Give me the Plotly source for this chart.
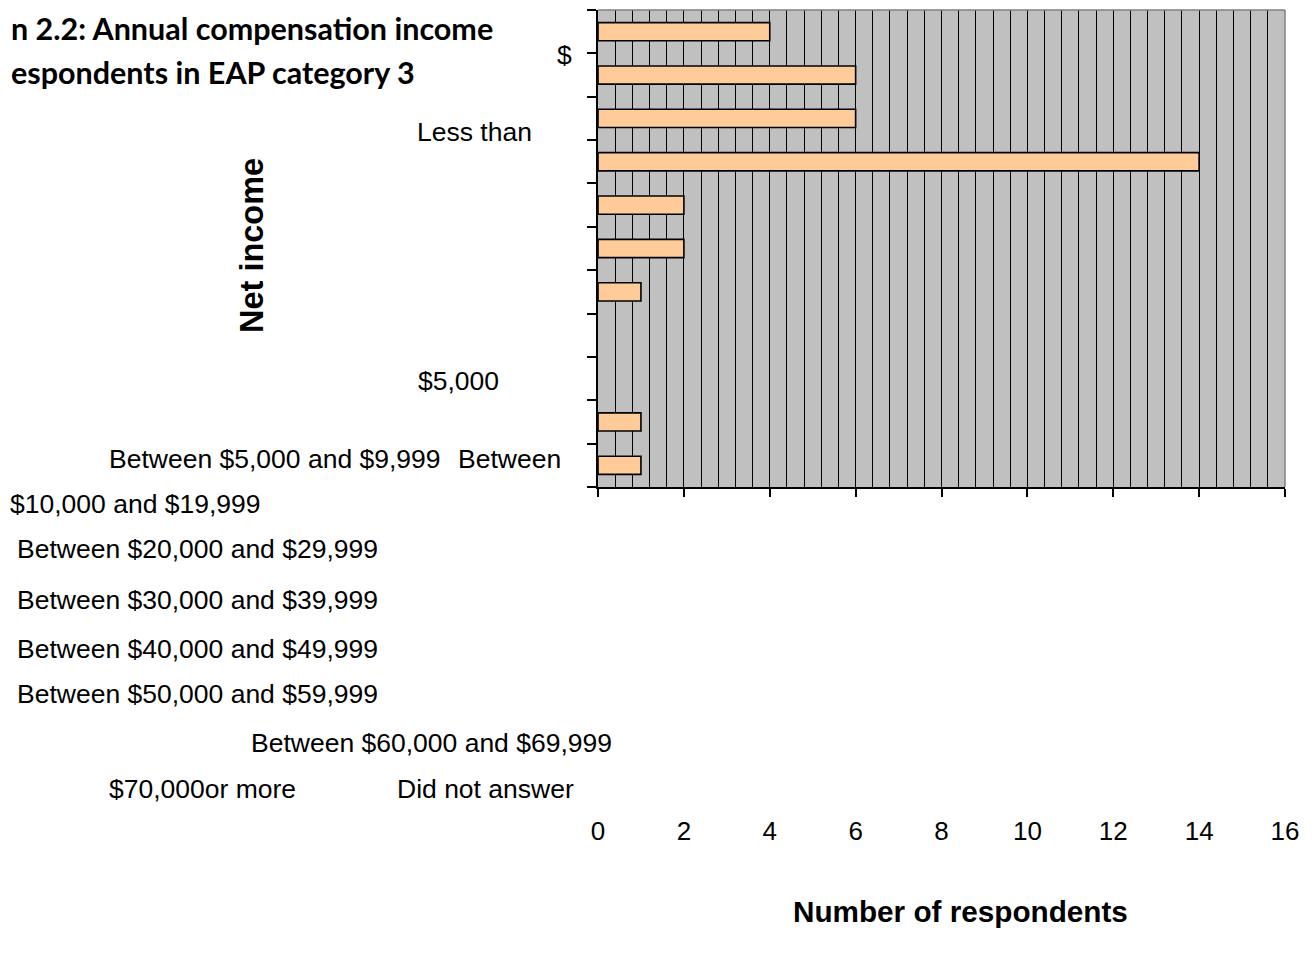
import plotly.graph_objects as go

# ---------------- data ----------------
respondents = [4, 6, 6, 14, 2, 2, 1, 0, 0, 1, 1]          # bars, top to bottom
band_index = list(range(len(respondents), 0, -1))          # 11 .. 1
x_tick_values = [0, 2, 4, 6, 8, 10, 12, 14, 16]

category_labels = [
    "$", "Less than", "$5,000",
    "Between $5,000 and $9,999", "Between",
    "$10,000 and $19,999",
    "Between $20,000 and $29,999",
    "Between $30,000 and $39,999",
    "Between $40,000 and $49,999",
    "Between $50,000 and $59,999",
    "Between $60,000 and $69,999",
    "$70,000or more", "Did not answer",
]
title_lines = ["n 2.2: Annual compensation income", "espondents in EAP category 3"]
y_title = "Net income"
x_title = "Number of respondents"

# ---------------- layout geometry (pixels of the page) ----------------
OFF = 8                      # page body margin
W, H = 1314 - OFF, 956 - OFF
L, T = 598 - OFF, 10 - OFF
R = W - (1285 - OFF)
B = H - (487 - OFF)
PW, PH = W - L - R, H - T - B


def px(x):
    return (x - OFF - L) / PW


def py(y):
    return (H - B - (y - OFF)) / PH


label_left = [555, 415, 416, 107, 456, 8, 15, 15, 15, 15, 249, 107, 395]
label_mid = [55, 132, 381, 459, 459, 504, 549, 600, 649, 694, 743, 789, 789]

FONT = "Liberation Sans, Arial, sans-serif"

fig = go.Figure()
fig.add_trace(go.Bar(
    x=respondents, y=band_index, orientation="h", width=0.42,
    marker=dict(color="#FFCC99",
                line=dict(color="black", width=[1.6 if v > 0 else 0 for v in respondents])),
    showlegend=False, hoverinfo="x",
))

annotations = []
for txt, lx, my in zip(category_labels, label_left, label_mid):
    annotations.append(dict(
        text=txt, x=px(lx), y=py(my), xref="paper", yref="paper",
        xanchor="left", yanchor="middle", showarrow=False,
        font=dict(family=FONT, size=26.5, color="black"),
    ))

annotations.append(dict(
    text=title_lines[0], x=px(OFF + 1), y=1.0 + (T) / PH, xref="paper", yref="paper",
    xanchor="left", yanchor="top", showarrow=False,
    font=dict(family="Lato, sans-serif", size=30.5, color="black", weight="bold"),
))
annotations.append(dict(
    text=title_lines[1], x=px(OFF + 1), y=py(72), xref="paper", yref="paper",
    xanchor="left", yanchor="middle", showarrow=False,
    font=dict(family="Lato, sans-serif", size=30.5, color="black", weight="bold"),
))
annotations.append(dict(
    text="<b>" + y_title + "</b>", x=px(252), y=py(246), xref="paper", yref="paper",
    xanchor="center", yanchor="middle", showarrow=False, textangle=-90,
    font=dict(family=FONT, size=32.5, color="black"),
))
annotations.append(dict(
    text="<b>" + x_title + "</b>", x=px(960), y=py(912), xref="paper", yref="paper",
    xanchor="center", yanchor="middle", showarrow=False,
    font=dict(family=FONT, size=29.7, color="black"),
))

fig.update_layout(
    width=W, height=H,
    margin=dict(l=L, r=R, t=T, b=B, pad=0),
    paper_bgcolor="white", plot_bgcolor="#C0C0C0",
    annotations=annotations,
    shapes=[
        dict(type="line", xref="paper", yref="paper", x0=0, x1=1, y0=1, y1=1,
             line=dict(color="#808080", width=1.5), layer="above"),
        dict(type="line", xref="paper", yref="paper", x0=1, x1=1, y0=0, y1=1,
             line=dict(color="#808080", width=1.5), layer="above"),
    ],
)

fig.update_xaxes(
    range=[0, 16], tickvals=x_tick_values, ticktext=[str(v) for v in x_tick_values],
    showgrid=True, gridcolor="black", gridwidth=1.4,
    minor=dict(dtick=0.4, tick0=0, showgrid=True, gridcolor="black", gridwidth=1.4),
    showline=True, linecolor="black", linewidth=1.5,
    ticks="outside", ticklen=8, tickwidth=1.5, tickcolor="black",
    tickfont=dict(family=FONT, size=26, color="black"),
    ticklabelstandoff=312, zeroline=False, fixedrange=True,
)
fig.update_yaxes(
    range=[0.5, len(respondents) + 0.5],
    tickvals=[i + 0.5 for i in range(len(respondents) + 1)],
    showticklabels=False, showgrid=False, zeroline=False,
    showline=True, linecolor="black", linewidth=1.5,
    ticks="outside", ticklen=9, tickwidth=1.5, tickcolor="black",
    fixedrange=True,
)

fig.write_html("out.html")
